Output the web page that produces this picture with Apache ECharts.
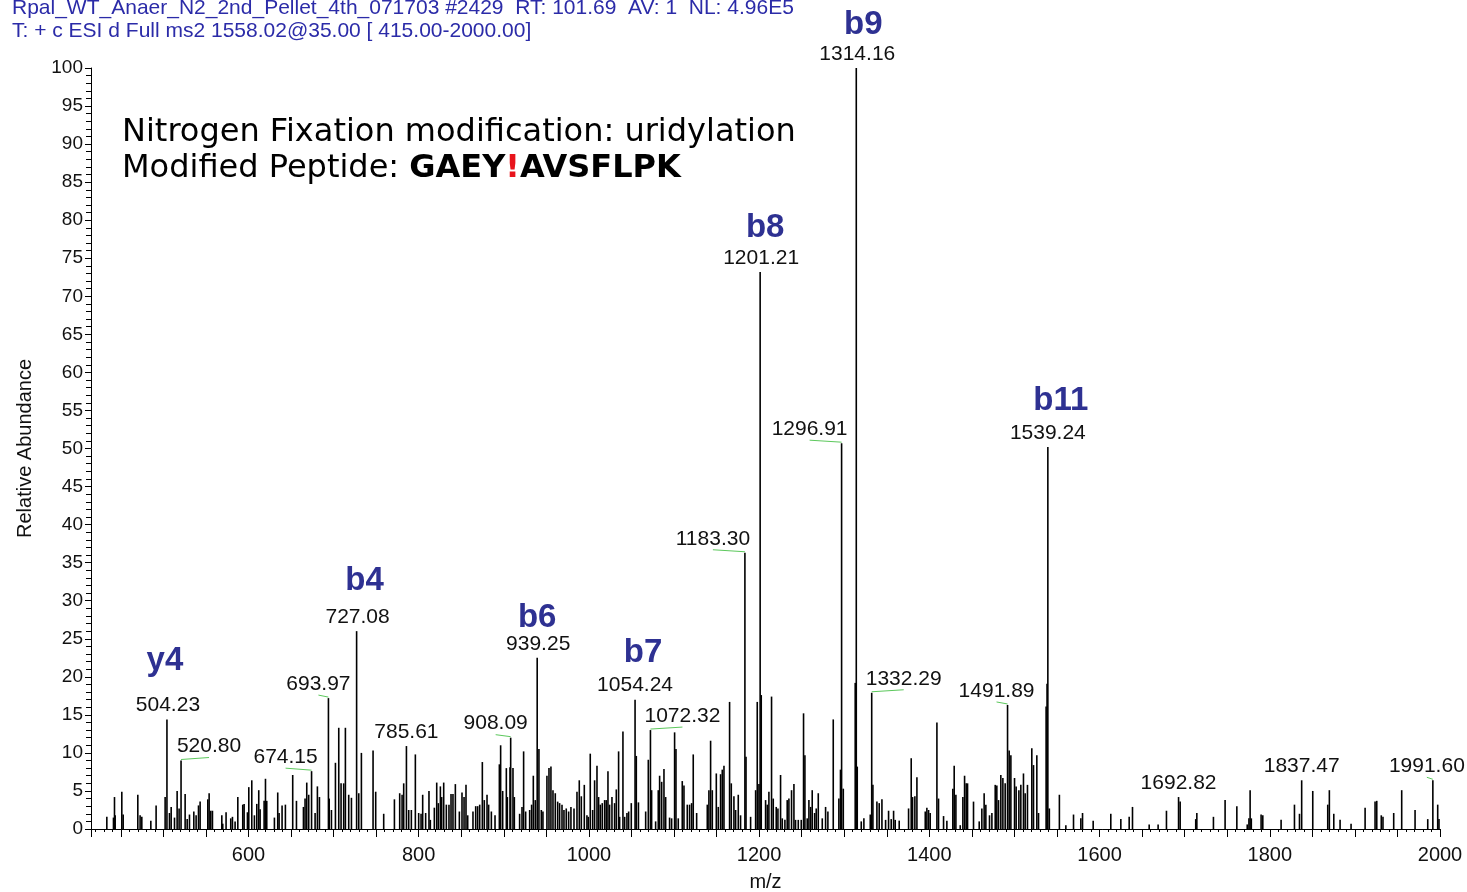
<!DOCTYPE html>
<html>
<head>
<meta charset="utf-8">
<script src="https://cdn.jsdelivr.net/npm/echarts@6/dist/echarts.min.js"></script>
<style>
  html, body { margin: 0; padding: 0; background: #ffffff; }
  #chart { width: 1467px; height: 892px; }
</style>
</head>
<body>
<div id="chart"></div>
<script>
// MS/MS centroid spectrum: m/z of each peak and its relative abundance (%)
const peakMz = [
  433.6, 441.4, 442.6, 443.4, 451.2, 452.8, 470.0, 472.7, 474.7, 485.3,
  491.5, 502.1, 504.23, 507.2, 509.2, 513.1, 516.2, 518.5, 520.80, 525.6,
  528.0, 530.7, 535.8, 538.5, 541.3, 543.2, 552.2, 553.8, 555.7, 557.7,
  568.7, 569.8, 573.7, 579.2, 581.2, 584.3, 587.5, 593.3, 594.9, 598.8,
  600.4, 603.9, 607.0, 609.8, 612.1, 613.7, 618.4, 620.0, 621.5, 630.5,
  634.4, 636.0, 639.5, 643.4, 652.0, 656.4, 664.6, 666.5, 668.5, 670.8,
  674.15, 678.3, 681.0, 683.4, 693.97, 694.9, 697.5, 702.2, 706.1, 708.8,
  711.9, 713.9, 717.8, 721.0, 727.08, 729.6, 732.7, 746.4, 749.5, 758.9,
  771.5, 777.7, 780.5, 782.4, 785.61, 788.3, 791.4, 796.1, 800.0, 802.8,
  804.7, 808.2, 812.1, 813.7, 818.4, 821.2, 823.1, 825.5, 827.0, 829.4,
  832.5, 835.6, 838.0, 840.3, 843.1, 847.8, 850.9, 853.3, 855.6, 857.6,
  863.8, 867.0, 869.3, 871.7, 874.8, 877.1, 880.3, 882.2, 885.4, 889.7,
  894.8, 896.3, 898.7, 903.0, 904.2, 907.3, 908.09, 910.8, 912.4, 918.6,
  921.4, 923.3, 925.7, 930.4, 932.7, 934.7, 937.0, 939.25, 941.3, 944.1,
  946.0, 950.7, 953.1, 955.4, 957.8, 960.5, 963.3, 965.6, 968.4, 970.7,
  973.4, 976.2, 978.9, 982.5, 986.0, 988.7, 991.1, 994.6, 997.7, 999.3,
  1001.6, 1004.4, 1006.7, 1009.5, 1011.4, 1013.4, 1015.7, 1018.5, 1020.4, 1022.4,
  1024.3, 1027.1, 1030.2, 1032.2, 1034.9, 1036.1, 1040.0, 1042.0, 1044.7, 1046.7,
  1049.8, 1054.24, 1055.7, 1058.2, 1066.7, 1069.8, 1072.32, 1073.7, 1078.4, 1081.5,
  1083.1, 1085.5, 1088.2, 1090.2, 1094.8, 1097.2, 1100.7, 1102.3, 1105.0, 1109.7,
  1111.7, 1115.6, 1118.3, 1120.7, 1122.6, 1126.6, 1139.1, 1141.0, 1143.0, 1145.0,
  1149.7, 1152.0, 1154.7, 1156.7, 1158.7, 1165.3, 1167.3, 1170.4, 1172.4, 1175.5,
  1178.2, 1183.30, 1184.6, 1190.0, 1195.9, 1197.8, 1199.8, 1201.21, 1202.5, 1207.6,
  1209.6, 1211.5, 1214.6, 1216.6, 1220.1, 1222.1, 1225.2, 1227.2, 1230.3, 1233.0,
  1235.0, 1238.1, 1240.9, 1242.8, 1246.0, 1249.5, 1252.2, 1253.8, 1256.5, 1258.5,
  1260.5, 1262.4, 1265.2, 1267.1, 1269.5, 1274.2, 1278.1, 1280.8, 1287.1, 1293.7,
  1295.6, 1296.91, 1298.9, 1312.9, 1314.16, 1315.3, 1320.0, 1323.1, 1330.6, 1332.29,
  1333.7, 1338.4, 1341.1, 1344.3, 1348.6, 1352.1, 1355.2, 1358.0, 1359.9, 1364.6,
  1375.6, 1378.7, 1380.3, 1383.0, 1385.4, 1395.2, 1397.1, 1399.1, 1401.0, 1408.9,
  1410.8, 1416.7, 1420.6, 1427.6, 1429.2, 1431.2, 1436.3, 1439.4, 1441.4, 1443.3,
  1444.9, 1451.9, 1458.6, 1461.7, 1464.4, 1466.4, 1470.7, 1473.5, 1477.4, 1479.3,
  1481.3, 1484.0, 1486.4, 1489.1, 1491.89, 1493.8, 1495.8, 1500.1, 1502.0, 1505.2,
  1507.5, 1510.6, 1512.6, 1515.3, 1520.4, 1522.4, 1526.3, 1528.3, 1537.2, 1538.3,
  1539.24, 1541.0, 1552.8, 1560.4, 1569.4, 1578.0, 1580.0, 1592.5, 1613.2, 1625.0,
  1634.8, 1638.7, 1658.3, 1668.8, 1678.6, 1692.82, 1694.7, 1713.0, 1714.3, 1733.8,
  1747.5, 1761.3, 1773.5, 1775.5, 1776.9, 1778.3, 1789.8, 1791.8, 1813.3, 1829.0,
  1834.9, 1837.47, 1850.5, 1868.1, 1870.0, 1875.2, 1882.6, 1895.5, 1912.0, 1923.7,
  1925.7, 1931.0, 1933.0, 1945.6, 1955.0, 1970.7, 1985.6, 1991.60, 1997.3, 1998.8
];
const peakAbundance = [
  1.6, 1.5, 4.2, 1.8, 4.9, 1.9, 4.5, 1.8, 1.6, 1.1,
  3.1, 4.2, 14.4, 2.1, 2.9, 1.5, 5.0, 2.7, 9.0, 4.6,
  1.3, 1.9, 2.3, 1.8, 3.1, 3.6, 3.9, 4.7, 2.4, 2.4,
  1.8, 0.7, 2.2, 1.4, 1.6, 1.0, 4.2, 3.2, 3.3, 2.2,
  5.5, 6.4, 1.8, 3.3, 5.1, 2.6, 3.7, 6.6, 3.7, 1.5,
  4.8, 2.1, 3.1, 3.2, 7.1, 3.7, 2.9, 4.0, 6.1, 4.5,
  7.6, 2.1, 5.6, 4.2, 17.2, 4.0, 2.5, 8.7, 13.3, 6.0,
  6.0, 13.3, 4.5, 4.1, 26.0, 4.7, 10.0, 10.3, 4.9, 2.0,
  3.9, 4.7, 4.5, 6.0, 10.9, 2.5, 2.5, 9.8, 2.1, 2.0,
  4.5, 2.1, 5.0, 1.2, 2.8, 6.1, 3.4, 5.6, 4.2, 6.1,
  3.2, 3.2, 4.6, 4.6, 5.9, 2.3, 4.8, 4.2, 5.8, 1.8,
  2.3, 3.0, 3.0, 3.2, 8.8, 3.8, 4.5, 3.2, 2.3, 1.8,
  8.5, 11.0, 5.0, 8.0, 4.2, 8.1, 12.0, 8.0, 4.2, 2.0,
  2.9, 10.2, 2.3, 2.5, 3.2, 7.0, 3.8, 22.5, 10.5, 2.5,
  2.3, 7.0, 8.0, 8.2, 5.1, 4.7, 3.6, 3.4, 3.2, 2.5,
  2.7, 2.3, 2.9, 2.7, 4.9, 6.4, 4.3, 5.8, 1.8, 1.6,
  9.9, 2.5, 6.4, 8.3, 4.2, 3.2, 3.4, 3.8, 3.8, 7.6,
  3.2, 4.2, 3.4, 5.2, 10.2, 1.6, 12.8, 1.6, 2.1, 2.3,
  3.4, 17.0, 9.6, 3.5, 2.3, 9.1, 13.0, 5.1, 1.0, 5.1,
  7.0, 6.2, 7.9, 4.2, 1.5, 1.4, 12.7, 10.5, 1.4, 6.3,
  5.7, 3.2, 3.2, 3.4, 9.8, 2.1, 3.2, 5.1, 11.6, 5.1,
  7.3, 2.9, 7.2, 7.8, 8.3, 16.7, 6.0, 4.3, 2.5, 4.5,
  1.8, 36.3, 9.5, 1.6, 5.1, 16.7, 5.9, 73.2, 17.6, 3.8,
  3.2, 4.9, 17.4, 4.0, 2.9, 2.7, 7.1, 1.4, 1.2, 3.8,
  4.0, 5.1, 5.9, 1.2, 1.2, 1.2, 15.2, 9.7, 1.4, 3.8,
  2.9, 5.1, 2.1, 2.7, 4.7, 1.4, 2.9, 2.3, 14.4, 4.0,
  7.8, 50.7, 5.3, 19.2, 100.0, 8.2, 1.0, 1.4, 1.9, 17.9,
  5.8, 3.6, 3.4, 3.9, 1.2, 2.4, 1.3, 2.4, 1.2, 1.1,
  2.7, 9.3, 4.2, 4.3, 6.8, 2.3, 2.8, 2.5, 2.1, 14.0,
  4.0, 1.7, 1.1, 5.3, 8.3, 4.5, 0.5, 4.2, 7.0, 6.0,
  6.0, 3.6, 1.0, 2.7, 4.7, 3.2, 1.8, 2.1, 5.8, 5.7,
  3.8, 7.1, 6.7, 6.0, 16.3, 10.3, 9.7, 6.7, 5.6, 5.1,
  5.8, 7.3, 4.7, 5.8, 10.6, 8.4, 9.7, 2.1, 16.1, 19.1,
  50.2, 2.7, 4.5, 0.5, 1.9, 1.4, 2.1, 1.1, 2.0, 1.3,
  1.6, 2.9, 0.6, 0.6, 2.4, 4.2, 3.6, 1.3, 2.1, 1.6,
  3.8, 3.0, 0.6, 1.4, 5.1, 1.4, 1.9, 1.8, 1.2, 3.2,
  2.0, 6.4, 5.0, 3.2, 5.1, 2.0, 1.2, 0.7, 2.8, 3.6,
  3.7, 1.8, 1.6, 2.1, 5.1, 2.5, 1.3, 6.4, 3.2, 1.3
];

// Annotated peaks and their fragment-ion assignments
const labelMz = [
  504.23, 520.80, 674.15, 693.97, 727.08, 785.61, 908.09, 939.25, 1054.24, 1072.32,
  1183.30, 1201.21, 1296.91, 1314.16, 1332.29, 1491.89, 1539.24, 1692.82, 1837.47, 1991.60
];
const labelIon = [
  'y4', '', '', '', 'b4', '', '', 'b6', 'b7', '',
  '', 'b8', '', 'b9', '', '', 'b11', '', '', ''
];

// Scan header
const headerLines = [
  'Rpal_WT_Anaer_N2_2nd_Pellet_4th_071703 #2429  RT: 101.69  AV: 1  NL: 4.96E5',
  'T: + c ESI d Full ms2 1558.02@35.00 [ 415.00-2000.00]'
];
const noteLine = 'Nitrogen Fixation modification: uridylation';
const peptideCaption = 'Modified Peptide: ';
const peptideParts = ['GAEY', '!', 'AVSFLPK'];

const xTitle = 'm/z';
const yTitle = 'Relative Abundance';
const mzRange = [415, 2000];
const abundanceRange = [0, 100];

// Label placement: horizontal shift of the m/z text (px), a green leader line
// when the text is moved aside, and the ion tag offsets.
const labelStyle = {
  '504.23': { dx: 1, ionDx: -2, ionDy: 45 },
  '520.80': { dx: 28, link: true },
  '674.15': { dx: -26, link: true },
  '693.97': { dx: -10, link: true },
  '727.08': { dx: 1, ionDx: 8, ionDy: 36 },
  '908.09': { dx: -15, link: true },
  '939.25': { dx: 1, ionDx: 0, ionDy: 26 },
  '1054.24': { dx: 0, ionDx: 8, ionDy: 33 },
  '1072.32': { dx: 32, link: true },
  '1183.30': { dx: -32, link: true },
  '1201.21': { dx: 1, ionDx: 5, ionDy: 30 },
  '1296.91': { dx: -32, link: true },
  '1314.16': { dx: 1, ionDx: 7, ionDy: 29 },
  '1332.29': { dx: 32, link: true },
  '1491.89': { dx: -11, link: true },
  '1539.24': { dx: 0, ionDx: 13, ionDy: 32 },
  '1991.60': { dx: -6, link: true }
};

const stickData = peakMz.map((m, i) => [m, peakAbundance[i]]);
const labelData = labelMz.map((m, i) => [m, peakAbundance[peakMz.indexOf(m)], i]);

const baseFont = '"Liberation Sans", Arial, sans-serif';
const noteFont = '"DejaVu Sans", Verdana, sans-serif';

function renderStick(params, api) {
  const top = api.coord([api.value(0), api.value(1)]);
  const base = api.coord([api.value(0), 0]);
  return {
    type: 'line',
    shape: { x1: top[0], y1: base[1], x2: top[0], y2: top[1] },
    style: { stroke: '#000000', lineWidth: 1.6 }
  };
}

function renderLabel(params, api) {
  const mz = api.value(0);
  const p = api.coord([mz, api.value(1)]);
  const key = mz.toFixed(2);
  const st = labelStyle[key] || {};
  const dx = st.dx || 0;
  const children = [{
    type: 'text',
    x: p[0] + dx,
    y: p[1] - 14,
    style: {
      text: key,
      fill: '#111111',
      fontSize: 21,
      fontFamily: baseFont,
      align: 'center',
      verticalAlign: 'middle'
    }
  }];
  if (st.link) {
    children.push({
      type: 'line',
      shape: { x1: p[0], y1: p[1] - 1, x2: p[0] + dx, y2: p[1] - 3 },
      style: { stroke: '#5cc85c', lineWidth: 1 }
    });
  }
  const ion = labelIon[api.value(2)];
  if (ion) {
    children.push({
      type: 'text',
      x: p[0] + (st.ionDx || 0),
      y: p[1] - 14 - (st.ionDy || 31),
      style: {
        text: ion,
        fill: '#2e3192',
        fontSize: 33,
        fontWeight: 'bold',
        fontFamily: baseFont,
        align: 'center',
        verticalAlign: 'middle'
      }
    });
  }
  return { type: 'group', children: children };
}

const chart = echarts.init(document.getElementById('chart'), null, { renderer: 'canvas' });

chart.setOption({
  animation: false,
  backgroundColor: '#ffffff',
  title: [
    {
      text: headerLines[0],
      left: 12, top: -2, padding: 0,
      textStyle: { color: '#2b2ba8', fontSize: 21, fontWeight: 'normal', fontFamily: baseFont }
    },
    {
      text: headerLines[1],
      left: 12, top: 21, padding: 0,
      textStyle: { color: '#2b2ba8', fontSize: 21, fontWeight: 'normal', fontFamily: baseFont }
    },
    {
      text: '{n|' + noteLine + '}\n{n|' + peptideCaption + '}{b|' + peptideParts[0] + '}{r|' +
            peptideParts[1] + '}{b|' + peptideParts[2] + '}',
      left: 122, top: 115, padding: 0,
      textStyle: {
        fontWeight: 'normal',
        rich: {
          n: { fontSize: 32, color: '#000000', fontWeight: 'normal', fontFamily: noteFont, lineHeight: 36 },
          b: { fontSize: 32, color: '#000000', fontWeight: 'bold', fontFamily: noteFont, lineHeight: 36 },
          r: { fontSize: 32, color: '#e8141c', fontWeight: 'bold', fontFamily: noteFont, lineHeight: 36 }
        }
      }
    }
  ],
  grid: { left: 91, right: 27, top: 68, bottom: 63, containLabel: false, outerBoundsMode: 'none' },
  xAxis: {
    type: 'value',
    min: mzRange[0],
    max: mzRange[1],
    splitNumber: 32,
    minInterval: 50,
    maxInterval: 50,
    name: xTitle,
    nameLocation: 'middle',
    nameGap: 43,
    nameTextStyle: { color: '#111111', fontSize: 20, fontFamily: baseFont },
    axisLine: { show: true, onZero: false, lineStyle: { color: '#000000', width: 1 } },
    axisTick: { show: true, length: 8, lineStyle: { color: '#000000', width: 1 } },
    minorTick: { show: true, splitNumber: 5, length: 3, lineStyle: { color: '#000000', width: 1 } },
    axisLabel: {
      margin: 16,
      color: '#111111',
      fontSize: 20,
      fontFamily: baseFont,
      showMinLabel: true,
      showMaxLabel: true,
      formatter: function (v) { return v % 200 === 0 ? String(v) : ''; }
    },
    splitLine: { show: false }
  },
  yAxis: {
    type: 'value',
    min: abundanceRange[0],
    max: abundanceRange[1],
    interval: 5,
    name: yTitle,
    nameLocation: 'middle',
    nameGap: 56,
    nameTextStyle: { color: '#111111', fontSize: 20, fontFamily: baseFont },
    axisLine: { show: true, lineStyle: { color: '#000000', width: 1 } },
    axisTick: { show: true, length: 6, lineStyle: { color: '#000000', width: 1 } },
    minorTick: { show: true, splitNumber: 5, length: 5, lineStyle: { color: '#000000', width: 1 } },
    axisLabel: { margin: 8, color: '#111111', fontSize: 19, fontFamily: baseFont },
    splitLine: { show: false }
  },
  series: [
    {
      type: 'custom',
      name: 'spectrum',
      renderItem: renderStick,
      data: stickData,
      encode: { x: 0, y: 1 },
      silent: true,
      clip: true
    },
    {
      type: 'custom',
      name: 'annotations',
      renderItem: renderLabel,
      data: labelData,
      encode: { x: 0, y: 1 },
      silent: true,
      z: 5
    }
  ]
});
</script>
</body>
</html>
